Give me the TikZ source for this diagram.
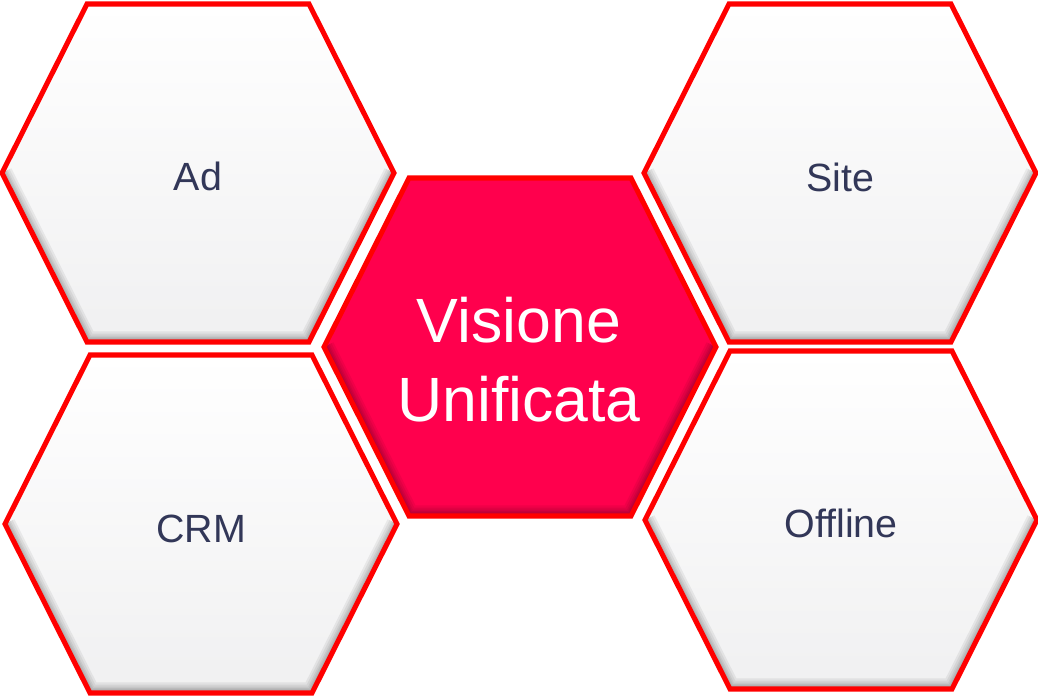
\documentclass[tikz,border=0pt]{standalone}
\usepackage{fontspec}
\setmainfont{Liberation Sans}
\usetikzlibrary{positioning}
\definecolor{hexred}{RGB}{255,0,0}
\definecolor{hexpink}{RGB}{255,0,77}
\definecolor{hexink}{RGB}{50,55,88}
\definecolor{hexgray}{RGB}{240,240,241}

\begin{document}
\begin{tikzpicture}[x=0.025cm, y=-0.025cm,
  pics/hexcell/.style={code={
    \path[#1] (-196,0) -- (-111,-169) -- (111,-169) -- (196,0)
      -- (111,169) -- (-111,169) -- cycle;
    % soft shadow inside the lower edges
    \begin{scope}
      \clip (-196,0) -- (-111,-169) -- (111,-169) -- (196,0)
        -- (111,169) -- (-111,169) -- cycle;
      \foreach \w in {15,12,9,7,5}
        \draw[black, opacity=0.06, line width=\w pt]
          (-196,0) -- (-111,169) -- (111,169) -- (196,0);
    \end{scope}
    \draw[hexred, line width=3.6pt] (-196,0) -- (-111,-169) -- (111,-169)
      -- (196,0) -- (111,169) -- (-111,169) -- cycle;
  }},
  sidefill/.style={top color=white, bottom color=hexgray},
  midfill/.style={fill=hexpink},
  celltext/.style={text=hexink, font=\fontsize{28}{34}\selectfont},
  midtext/.style={text=white, align=center,
                  font=\fontsize{44.5}{56}\selectfont}]
  \useasboundingbox (0,0) rectangle (1038,696);

  % Outer cells
  \pic at (198,173) {hexcell=sidefill};
  \pic at (840,173) {hexcell=sidefill};
  \pic at (201,524) {hexcell=sidefill};
  \pic at (841,520) {hexcell=sidefill};

  % Centre cell
  \pic at (520,347) {hexcell=midfill};

  % Labels
  \node[celltext, anchor=base] (ad) at (198,190) {Ad};
  \node[celltext, anchor=base] (site) at (840,191) {Site};
  \node[celltext, anchor=base] (crm) at (201,542) {CRM};
  \node[celltext, anchor=base] (offline) at (841,537) {Offline};
  \node[midtext] (vision) at (519,360) {Visione\\Unificata};
\end{tikzpicture}
\end{document}
